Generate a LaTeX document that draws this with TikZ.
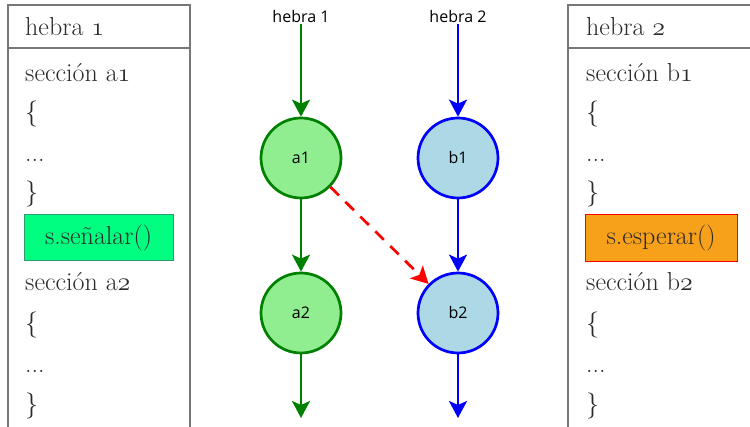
\RequirePackage{fix-cm}
\documentclass[tikz,border=0pt]{standalone}
\usepackage{fontspec}
\newfontfamily\labelfont{Open Sans}
\usetikzlibrary{arrows.meta}
\definecolor{txt}{HTML}{2A2A2A}
\definecolor{tline}{HTML}{777777}
\definecolor{gline}{HTML}{008000}
\definecolor{gfill}{HTML}{90EE90}
\definecolor{bline}{HTML}{0000FF}
\definecolor{bfill}{HTML}{ADD8E6}
\definecolor{sgfill}{HTML}{00FF80}
\definecolor{sgline}{HTML}{2E9A70}
\definecolor{ofill}{HTML}{F7A11A}
\newcommand\osn[1]{$\mathchar"013#1$}
\tikzset{
  tableline/.style={draw=tline,line width=1.1pt},
  rowtext/.style={anchor=base west,inner sep=0pt,text=txt,font=\fontsize{26}{30}\selectfont},
  sigbox/.style={draw=sgline,fill=sgfill,line width=1pt,minimum width=149pt,minimum height=46pt,inner sep=0pt,text=txt,font=\fontsize{26}{30}\selectfont},
  waitbox/.style={draw=red,fill=ofill,line width=1pt,minimum width=152pt,minimum height=47pt,inner sep=0pt,text=txt,font=\fontsize{26}{30}\selectfont},
  lbl/.style={inner sep=1pt,font=\labelfont\fontsize{16}{18}\selectfont},
  gnode/.style={circle,draw=gline,fill=gfill,line width=2.7pt,minimum size=80pt,inner sep=0pt,font=\labelfont\fontsize{16}{18}\selectfont},
  bnode/.style={circle,draw=bline,fill=bfill,line width=2.7pt,minimum size=80pt,inner sep=0pt,font=\labelfont\fontsize{16}{18}\selectfont},
  garrow/.style={draw=gline,line width=2.7pt,-{Stealth[length=17pt,width=18pt,inset=4pt]}},
  barrow/.style={draw=bline,line width=2.7pt,-{Stealth[length=17pt,width=18pt,inset=4pt]}},
  rarrow/.style={draw=red,line width=2.7pt,dash pattern=on 12pt off 9pt,-{Stealth[length=17pt,width=18pt,inset=4pt]}}
}
\begin{document}
\begin{tikzpicture}[x=1pt,y=-1pt]
\useasboundingbox (0,0) rectangle (750,427);
% left table
\draw[tableline] (8,430) -- (8,5) -- (190,5) -- (190,430);
\draw[tableline] (8,48) -- (190,48);
\node[rowtext] (lh) at (25,36) {hebra \osn{1}};
\node[rowtext] (l1) at (25,82) {sección a\osn{1}};
\node[rowtext] (l2) at (25,121) {\{};
\node[rowtext] (l3) at (25,162) {...};
\node[rowtext] (l4) at (25,201) {\}};
\node[sigbox] (l5) at (98.5,238) {s.señalar()};
\node[rowtext] (l6) at (25,291) {sección a\osn{2}};
\node[rowtext] (l7) at (25,332) {\{};
\node[rowtext] (l8) at (25,373) {...};
\node[rowtext] (l9) at (25,413) {\}};
% right table
\draw[tableline] (568,430) -- (568,5) -- (752,5);
\draw[tableline] (568,48) -- (752,48);
\node[rowtext] (rh) at (586,36) {hebra \osn{2}};
\node[rowtext] (r1) at (586,82) {sección b\osn{1}};
\node[rowtext] (r2) at (586,121) {\{};
\node[rowtext] (r3) at (586,162) {...};
\node[rowtext] (r4) at (586,201) {\}};
\node[waitbox] (r5) at (661,238.5) {s.esperar()};
\node[rowtext] (r6) at (586,291) {sección b\osn{2}};
\node[rowtext] (r7) at (586,332) {\{};
\node[rowtext] (r8) at (586,373) {...};
\node[rowtext] (r9) at (586,413) {\}};
% graph
\node[lbl] (h1) at (301,17) {hebra 1};
\node[lbl] (h2) at (458,17) {hebra 2};
\node[gnode] (a1) at (301,158) {a1};
\node[gnode] (a2) at (301,313) {a2};
\node[bnode] (b1) at (458,158) {b1};
\node[bnode] (b2) at (458,313) {b2};
\coordinate (ea) at (301,418);
\coordinate (eb) at (458,418);
\draw[garrow] (h1.south) -- (a1.north);
\draw[garrow] (a1.south) -- (a2.north);
\draw[garrow] (a2.south) -- (ea);
\draw[barrow] (h2.south) -- (b1.north);
\draw[barrow] (b1.south) -- (b2.north);
\draw[barrow] (b2.south) -- (eb);
\draw[rarrow] (a1) -- (b2);
\end{tikzpicture}
\end{document}
